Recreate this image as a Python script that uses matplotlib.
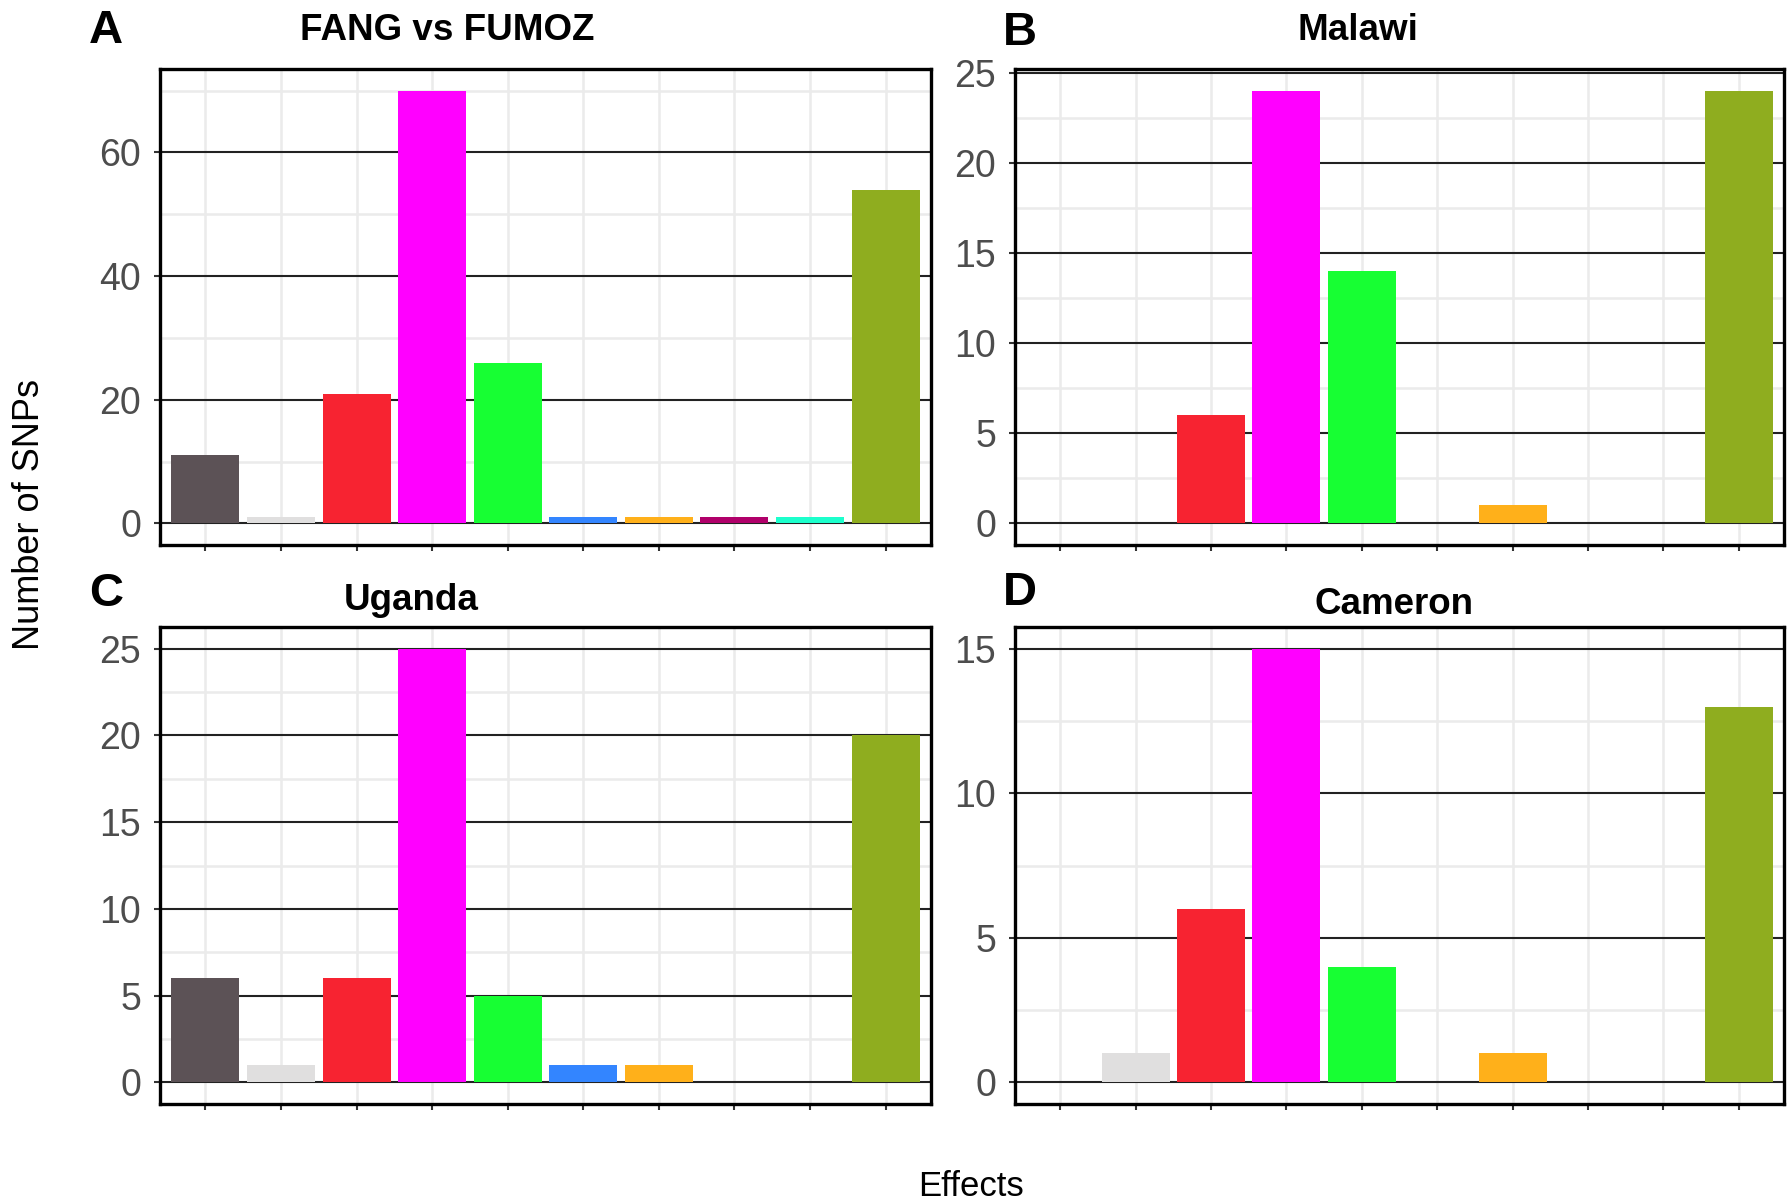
import numpy as np
import matplotlib
matplotlib.use("Agg")
import matplotlib.pyplot as plt
from matplotlib.ticker import MultipleLocator

plt.rcParams['font.family'] = ['Liberation Sans', 'DejaVu Sans']

# SNP counts per effect class, same category order in every panel
effects = ['e1', 'e2', 'e3', 'e4', 'e5', 'e6', 'e7', 'e8', 'e9', 'e10']
colors = ['#5C5256', '#E0DFDF', '#F72331', '#FF00FF', '#17FF33',
          '#3385FF', '#FFB01A', '#B0006A', '#1CFFCC', '#8FAD1F']

fang_fumoz = [11, 1, 21, 70, 26, 1, 1, 1, 1, 54]
malawi = [0, 0, 6, 24, 14, 0, 1, 0, 0, 24]
uganda = [6, 1, 6, 25, 5, 1, 1, 0, 0, 20]
cameron = [0, 1, 6, 15, 4, 0, 1, 0, 0, 13]

titles = ['FANG vs FUMOZ', 'Malawi', 'Uganda', 'Cameron']
letters = ['A', 'B', 'C', 'D']
major_steps = [20, 5, 5, 5]

W, H = 1788, 1203
fig = plt.figure(figsize=(W / 100, H / 100), dpi=100)


def px_axes(x0, y0, x1, y1):
    return fig.add_axes([x0 / W, 1 - y1 / H, (x1 - x0) / W, (y1 - y0) / H])


boxes = [(160, 69, 931, 545), (1015, 69, 1784, 545),
         (160, 627, 931, 1104), (1015, 627, 1784, 1104)]
series = [fang_fumoz, malawi, uganda, cameron]

for box, vals, step in zip(boxes, series, major_steps):
    ax = px_axes(*box)
    x = np.arange(1, len(effects) + 1)
    top = max(vals)
    ax.set_xlim(0.4, len(effects) + 0.6)
    ax.set_ylim(-0.05 * top, 1.05 * top)
    ax.yaxis.set_major_locator(MultipleLocator(step))
    ax.yaxis.set_minor_locator(MultipleLocator(step / 2))
    ax.set_xticks(x)
    ax.set_xticklabels([])

    # grid: light minor rows, black major rows, light columns on top
    ax.grid(True, which='minor', axis='y', color='#EBEBEB', lw=1.8, zorder=0.5)
    ax.grid(True, which='major', axis='y', color='#222222', lw=1.5, zorder=0.6)
    ax.grid(True, which='major', axis='x', color='#EBEBEB', lw=1.8, zorder=0.7)
    ax.set_axisbelow(True)

    ax.bar(x, vals, width=0.9, color=colors, zorder=2)

    for s in ax.spines.values():
        s.set_linewidth(2.4)
        s.set_color('black')
    ax.tick_params(axis='both', which='major', length=4.5, width=1.5,
                   color='#333333', labelsize=27, labelcolor='#4D4D4D', pad=9)
    ax.tick_params(axis='both', which='minor', length=0)

for (tx, ty), title in zip([(447, 31), (1358, 31), (411, 601), (1394, 605)], titles):
    fig.text(tx / W, 1 - ty / H, title, ha='center', va='center',
             fontsize=26.5, fontweight='bold')

for (lx, ly), letter in zip([(89, 31), (1003, 33), (89, 594), (1003, 593)], letters):
    fig.text(lx / W, 1 - ly / H, letter, ha='left', va='center',
             fontsize=34, fontweight='bold')

fig.text(30 / W, 1 - 514 / H, 'Number of SNPs', rotation=90,
         ha='center', va='center', fontsize=26)
fig.text(971 / W, 1 - 1187 / H, 'Effects', ha='center', va='center', fontsize=25)

fig.savefig('out.png', dpi=100, facecolor='white')
